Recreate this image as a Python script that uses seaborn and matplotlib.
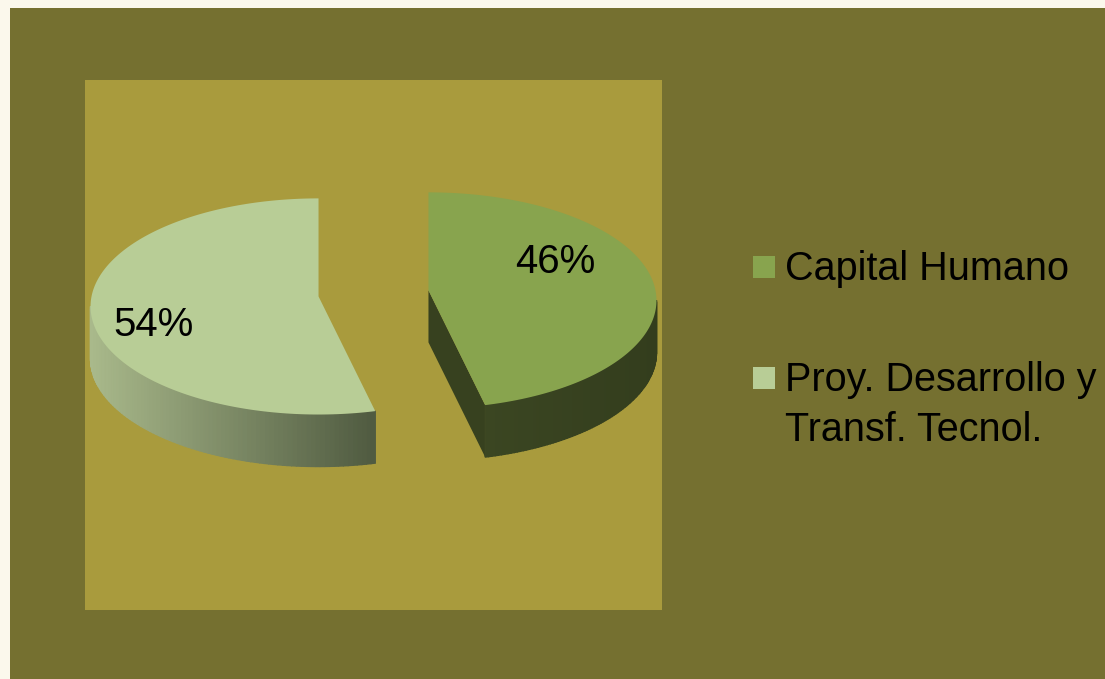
import matplotlib
matplotlib.use("Agg")
import matplotlib.pyplot as plt
import numpy as np
import seaborn as sns
from matplotlib.colors import to_rgb
from matplotlib.patches import Polygon, Rectangle

# Data
categories = ["Capital Humano", "Proy. Desarrollo y\nTransf. Tecnol."]
shares = [46, 54]
labels = ["46%", "54%"]
top_colors = ["#88A44E", "#B8CD96"]

# Style
sns.set_style("white")
plt.rcParams["font.family"] = ["Liberation Sans", "DejaVu Sans"]

W, H = 1105, 679
fig = plt.figure(figsize=(W / 100, H / 100), dpi=100)
fig.patch.set_facecolor("#FBF8EC")
fig.add_artist(Rectangle((10 / W, 0), 1 - 10 / W, 1 - 8 / H,
                         transform=fig.transFigure, facecolor="#757030",
                         edgecolor="none", zorder=0))

# plot area
ax = fig.add_axes([85 / W, (H - 610) / H, 577 / W, 530 / H])
ax.set_facecolor("#A99B3D")
for s in ax.spines.values():
    s.set_visible(False)
ax.set_xticks([])
ax.set_yticks([])

unit = 228.0  # px per radius
rx, ry, depth, explode = 1.0, 0.474, 0.228, 0.243
persp = 0.044  # apex sits a little above the ellipse centre
ax.set_xlim(-288.5 / unit, 288.5 / unit)
ax.set_ylim(0.936 - 530 / unit, 0.936)
label_r = [0.56, 0.73]


def ell(cx, cy, a1, a2, n=120):
    t = np.radians(np.linspace(a1, a2, n))
    return cx + rx * np.sin(t), cy + ry * np.cos(t)


def mix(c1, c2, f):
    c1, c2 = np.array(to_rgb(c1)), np.array(to_rgb(c2))
    return tuple(c1 + (c2 - c1) * f)


rim_colors = [("#3B4622", "#333D1D"), ("#A9B98B", "#4F5A40")]
wall_color = "#37411F"

total = sum(shares)
start = 0.0
for i, v in enumerate(shares):
    end = start + 360.0 * v / total
    mid = (start + end) / 2
    ax_ = explode * np.sin(np.radians(mid))
    ay_ = explode * np.cos(np.radians(mid)) * 0.434
    cx, cy = ax_, ay_ - persp  # ellipse centre

    # radial wall facing the viewer (end edge of first slice)
    if i == 0:
        ex, ey = ell(cx, cy, end, end, 1)
        wall = [(ax_, ay_), (ex[0], ey[0]), (ex[0], ey[0] - depth),
                (ax_, ay_ - depth)]
        ax.add_patch(Polygon(wall, closed=True, facecolor=wall_color,
                             edgecolor="none", zorder=2))

    # outer rim, visible part only (lower half of the ellipse)
    lo, hi = max(start, 90.0), min(end, 270.0)
    if hi > lo:
        xs, ys = ell(cx, cy, lo, hi, 90)
        xmin, xmax = xs.min(), xs.max()
        for k in range(len(xs) - 1):
            f = ((xs[k] + xs[k + 1]) / 2 - xmin) / (xmax - xmin)
            col = mix(rim_colors[i][0], rim_colors[i][1], f)
            quad = [(xs[k], ys[k]), (xs[k + 1], ys[k + 1]),
                    (xs[k + 1], ys[k + 1] - depth), (xs[k], ys[k] - depth)]
            ax.add_patch(Polygon(quad, closed=True, facecolor=col,
                                 edgecolor=col, lw=1.0, zorder=3))

    # top face
    xs, ys = ell(cx, cy, start, end, 200)
    pts = [(ax_, ay_)] + list(zip(xs, ys))
    ax.add_patch(Polygon(pts, closed=True, facecolor=top_colors[i],
                         edgecolor="none", zorder=4))

    # percentage label
    lx = ax_ + label_r[i] * rx * np.sin(np.radians(mid))
    ly = ay_ + np.cos(np.radians(mid))
    ax.text(lx, ly, labels[i], ha="center", va="center", fontsize=29,
            color="black", zorder=5)
    start = end

# legend drawn by hand so the marker sits on the first line
leg_top = [256, 367]
for i, name in enumerate(categories):
    y0 = leg_top[i]
    fig.add_artist(Rectangle((753 / W, 1 - (y0 + 22) / H), 22 / W, 22 / H,
                             transform=fig.transFigure, facecolor=top_colors[i],
                             edgecolor="none"))
    for j, line in enumerate(name.split("\n")):
        base = y0 + 24 + 50 * j
        fig.text(785 / W, 1 - base / H, line, ha="left", va="baseline",
                 fontsize=28.5, color="black")

fig.savefig("out.png", dpi=100, facecolor=fig.get_facecolor())
